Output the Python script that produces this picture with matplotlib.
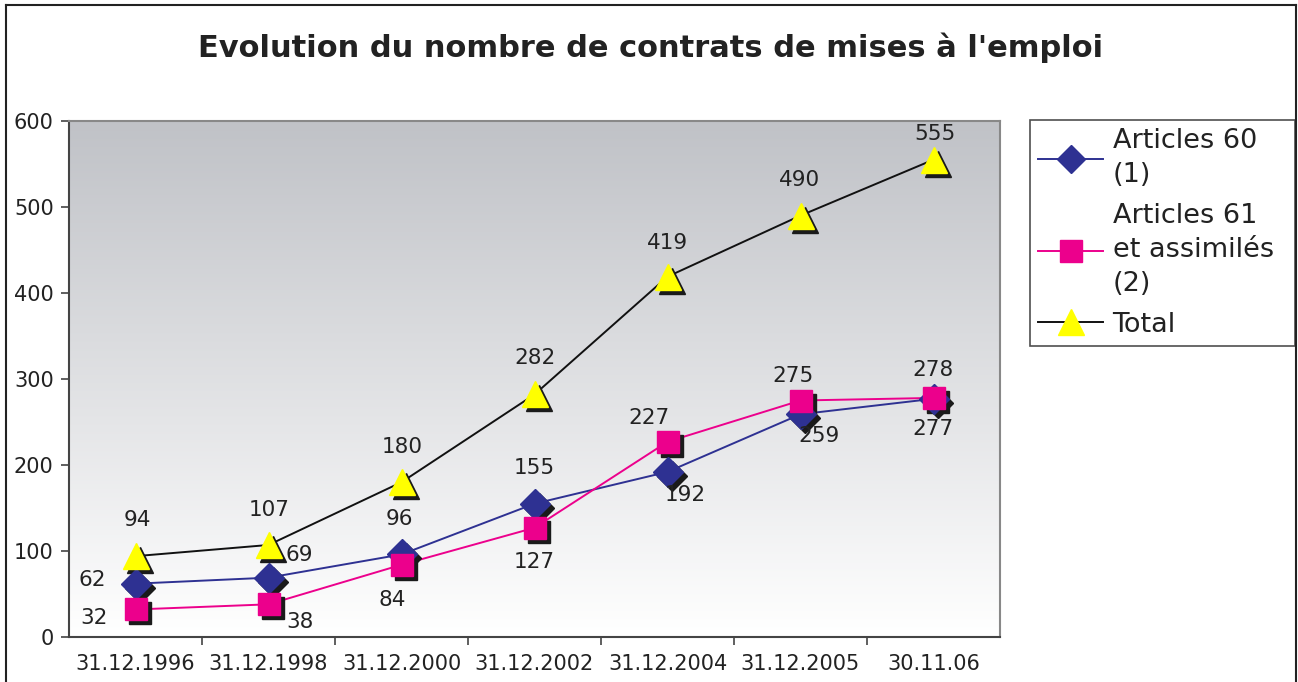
import matplotlib
matplotlib.use("Agg")
import matplotlib.pyplot as plt
import numpy as np
from matplotlib.lines import Line2D
import matplotlib.transforms as mtransforms

plt.rcParams['font.family'] = ['DejaVu Sans']

categories = ["31.12.1996", "31.12.1998", "31.12.2000", "31.12.2002",
              "31.12.2004", "31.12.2005", "30.11.06"]
art60 = [62, 69, 96, 155, 192, 259, 277]
art61 = [32, 38, 84, 127, 227, 275, 278]
total = [94, 107, 180, 282, 419, 490, 555]
series_names = ["Articles 60\n(1)", "Articles 61\net assimilés\n(2)", "Total"]
y_ticks = [0, 100, 200, 300, 400, 500, 600]

# label offsets in pixels (dx, dy upward)
off60 = [(-43, 4), (31, 23), (-2, 35), (0, 36), (18, -23), (19, -22), (-1, -30)]
off61 = [(-41, -9), (31, -18), (-9, -35), (0, -34), (-18, 24), (-7, 24), (-1, 28)]
offtot = [(2, 36), (1, 35), (1, 35), (0, 36), (0, 34), (-1, 36), (1, 26)]

W, H = 1298, 682
fig = plt.figure(figsize=(W / 100, H / 100), dpi=100)
ax = fig.add_axes([69 / W, 1 - 637 / H, (1000 - 69) / W, (637 - 121) / H])

x = np.arange(len(categories))

# gradient background (gray at top, white at bottom)
grad = np.linspace(0, 1, 256).reshape(-1, 1)
top = np.array([192, 194, 199]) / 255
bot = np.array([255, 255, 255]) / 255
img = top[None, None, :] * (1 - grad[:, :, None]) + bot[None, None, :] * grad[:, :, None]
ax.imshow(img, extent=[-0.5, len(categories) - 0.5, 0, 600], origin='upper',
          aspect='auto', zorder=0)
ax.set_xlim(-0.5, len(categories) - 0.5)
ax.set_ylim(0, 600)

series = [
    (art60, '#2E3192', '#2E3192', 'D', 15, off60),
    (art61, '#EC008C', '#EC008C', 's', 16, off61),
    (total, '#111111', '#FFFF00', '^', 19, offtot),
]
shadow = mtransforms.offset_copy(ax.transData, fig=fig, x=4, y=-4, units='dots')
handles = []
for vals, lc, mc, mk, ms, offs in series:
    ax.plot(x, vals, color=lc, lw=1.4, zorder=3)
    ax.plot(x, vals, ls='none', marker=mk, ms=ms, color='#1a1a1a', mec='#1a1a1a',
            transform=shadow, zorder=4)
    ax.plot(x, vals, ls='none', marker=mk, ms=ms, color=mc, mec=mc, zorder=5)
    for xi, v, (dx, dy) in zip(x, vals, offs):
        ax.annotate(str(v), (xi, v), xytext=(dx * 0.72, dy * 0.72),
                    textcoords='offset points', ha='center', va='center',
                    fontsize=15.5, color='#222222', zorder=6)
    handles.append(Line2D([], [], color=lc, lw=1.4, marker=mk, ms=ms * 0.95,
                          mfc=mc, mec=mc))

ax.set_yticks(y_ticks)
ax.set_yticklabels([str(t) for t in y_ticks], fontsize=15, color='#222222')
ax.set_xticks(x)
ax.set_xticklabels(categories, fontsize=15, color='#222222')
ax.tick_params(axis='x', length=0, pad=12)
ax.tick_params(axis='y', length=6, width=1.2, color='#444444', pad=5)
ax.set_xticks(np.arange(0.5, len(categories) - 0.5, 1), minor=True)
ax.tick_params(axis='x', which='minor', length=6, width=1.2, color='#444444')

for s in ['top', 'right']:
    ax.spines[s].set_color('#888888')
    ax.spines[s].set_linewidth(1.5)
for s in ['left', 'bottom']:
    ax.spines[s].set_color('#444444')
    ax.spines[s].set_linewidth(1.5)

fig.text(651 / W, 1 - 48 / H, "Evolution du nombre de contrats de mises à l'emploi",
         ha='center', va='center', fontsize=22, fontweight='bold', color='#222222')

leg = fig.legend(handles, series_names, loc='upper left',
                 bbox_to_anchor=(1030 / W, 1 - 120 / H, (1295 - 1030) / W, 0),
                 mode='expand', fontsize=19.5, frameon=True, fancybox=False,
                 edgecolor='#222222', handlelength=2.4, handletextpad=0.35,
                 labelspacing=0.55, borderpad=0.3, borderaxespad=0)
leg.get_frame().set_linewidth(1.2)
for t in leg.get_texts():
    t.set_color('#222222')
    t.set_linespacing(1.4)

# figure border
for xs, ys in [([6, 6], [H, 5]), ([6, 1296], [5, 5]), ([1296, 1296], [5, H])]:
    fig.add_artist(Line2D([v / W for v in xs], [1 - v / H for v in ys],
                          color='#222222', lw=1.5, transform=fig.transFigure))

fig.savefig("out.png", dpi=100)
